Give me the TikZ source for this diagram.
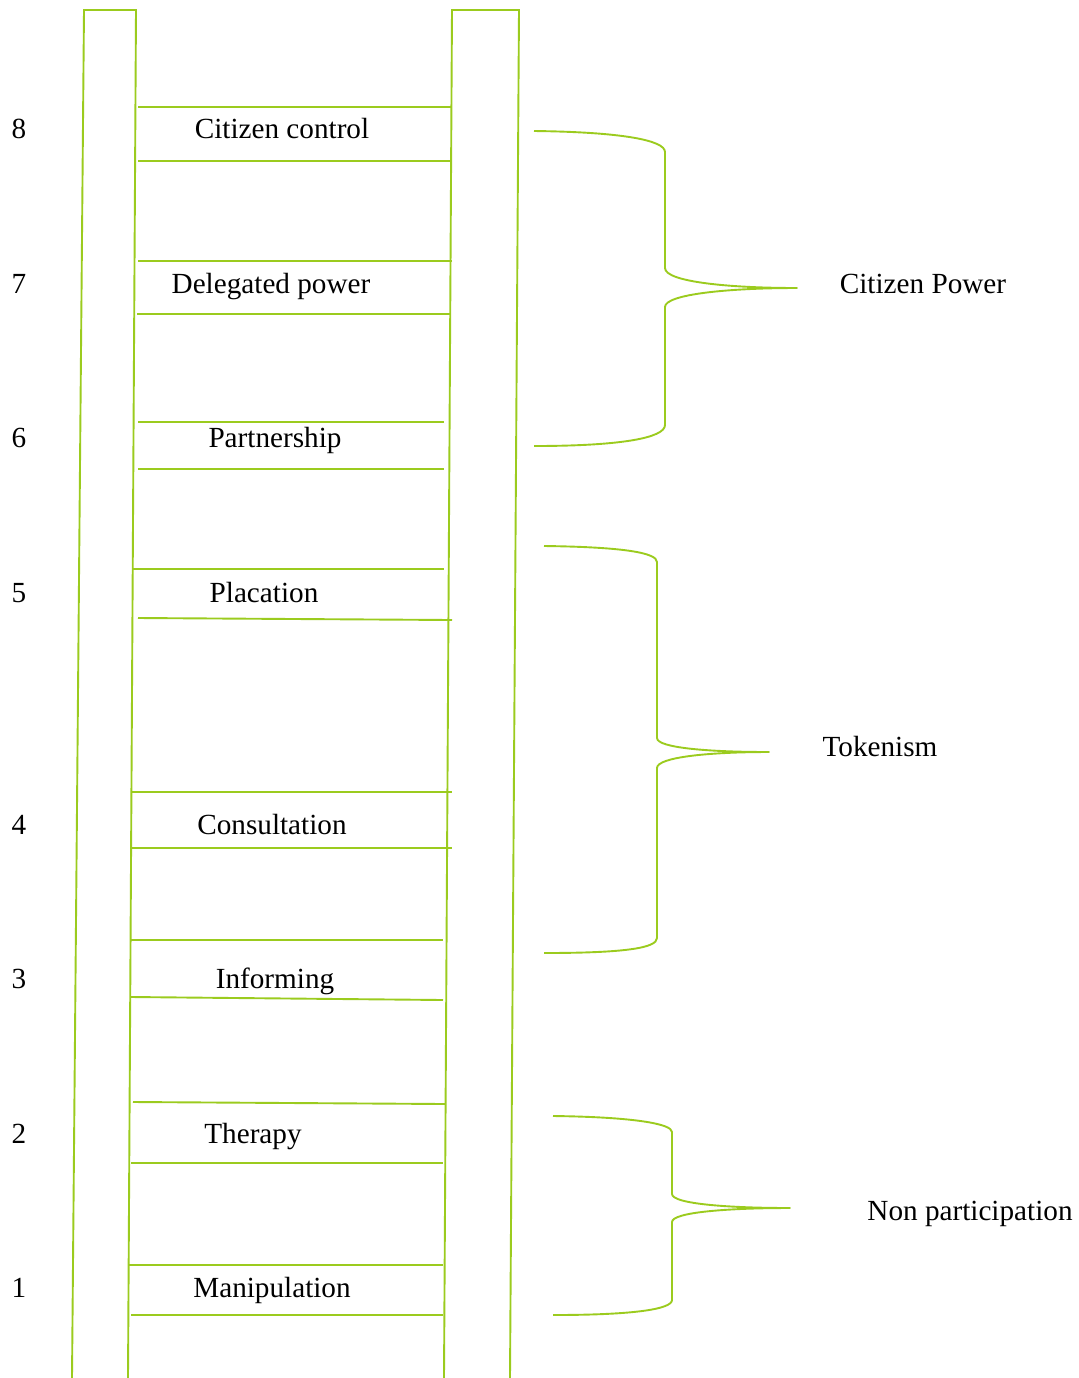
\documentclass[tikz,border=0pt]{standalone}
\usepackage{fontspec}
\setmainfont{Liberation Serif}
\usepackage{tikz}
\usetikzlibrary{positioning}
\definecolor{laddergreen}{HTML}{9BCB1E}

\begin{document}
\begin{tikzpicture}[
  x=0.5pt,y=-0.5pt,
  rail/.style={draw=laddergreen,line width=0.95pt},
  rung/.style={draw=laddergreen,line width=0.95pt},
  brace/.style={draw=laddergreen,line width=0.95pt,line join=round},
  rungtext/.style={font=\fontsize{14.6}{17}\selectfont,inner sep=0pt,anchor=base},
  numtext/.style={font=\fontsize{14.6}{17}\selectfont,inner sep=0pt,anchor=base},
  grouptext/.style={font=\fontsize{14.6}{17}\selectfont,inner sep=0pt,anchor=base}
]
\useasboundingbox (0,0) rectangle (1079,1378);

\draw[rail] (72,1378) -- (84,10) -- (136,10) -- (128,1378);
\draw[rail] (444,1378) -- (452,10) -- (519,10) -- (510,1378);

\draw[rung] (138,107) -- (452,107);
\draw[rung] (138,161) -- (452,161);
\draw[rung] (138,261) -- (452,261);
\draw[rung] (137,314) -- (451,314);
\draw[rung] (138,422) -- (444,422);
\draw[rung] (138,469) -- (444,469);
\draw[rung] (133,569) -- (444,569);
\draw[rung] (138,618) -- (452,620);
\draw[rung] (131,792) -- (452,792);
\draw[rung] (131,848) -- (452,848);
\draw[rung] (131,940) -- (443,940);
\draw[rung] (131,997) -- (443,1000);
\draw[rung] (133,1102) -- (445,1104);
\draw[rung] (131,1163) -- (443,1163);
\draw[rung] (129,1265) -- (443,1265);
\draw[rung] (131,1315) -- (443,1315);

\node[rungtext] (r8) at (282,138) {Citizen control};
\node[rungtext] (r7) at (271,293) {Delegated power};
\node[rungtext] (r6) at (275,447) {Partnership};
\node[rungtext] (r5) at (264,602) {Placation};
\node[rungtext] (r4) at (272,834) {Consultation};
\node[rungtext] (r3) at (275,988) {Informing};
\node[rungtext] (r2) at (253,1143) {Therapy};
\node[rungtext] (r1) at (272,1297) {Manipulation};

\node[numtext] (n8) at (19,138) {8};
\node[numtext] (n7) at (19,293) {7};
\node[numtext] (n6) at (19,447) {6};
\node[numtext] (n5) at (19,602) {5};
\node[numtext] (n4) at (19,834) {4};
\node[numtext] (n3) at (19,988) {3};
\node[numtext] (n2) at (19,1143) {2};
\node[numtext] (n1) at (19,1297) {1};

\coordinate (powertip) at (797,288);
\coordinate (tokentip) at (769,752);
\coordinate (nontip) at (790,1208);

\draw[brace] (534,131) .. controls (620,132) and (665,140) .. (665,152) -- (665,268)
  .. controls (665,282) and (730,288) .. (powertip)
  .. controls (730,288) and (665,294) .. (665,307) -- (665,425)
  .. controls (665,438) and (620,446) .. (534,446);
\draw[brace] (544,546) .. controls (625,547) and (657,553) .. (657,562) -- (657,738)
  .. controls (657,748) and (710,752) .. (tokentip)
  .. controls (710,752) and (657,757) .. (657,768) -- (657,938)
  .. controls (657,948) and (625,953) .. (544,953);
\draw[brace] (553,1116) .. controls (635,1117) and (672,1124) .. (672,1132) -- (672,1194)
  .. controls (672,1204) and (730,1208) .. (nontip)
  .. controls (730,1208) and (672,1212) .. (672,1222) -- (672,1300)
  .. controls (672,1309) and (635,1315) .. (553,1315);

\node[grouptext] (power) at (923,293) {Citizen Power};
\node[grouptext] (token) at (880,756) {Tokenism};
\node[grouptext] (nonpart) at (970,1220) {Non participation};
\end{tikzpicture}
\end{document}
